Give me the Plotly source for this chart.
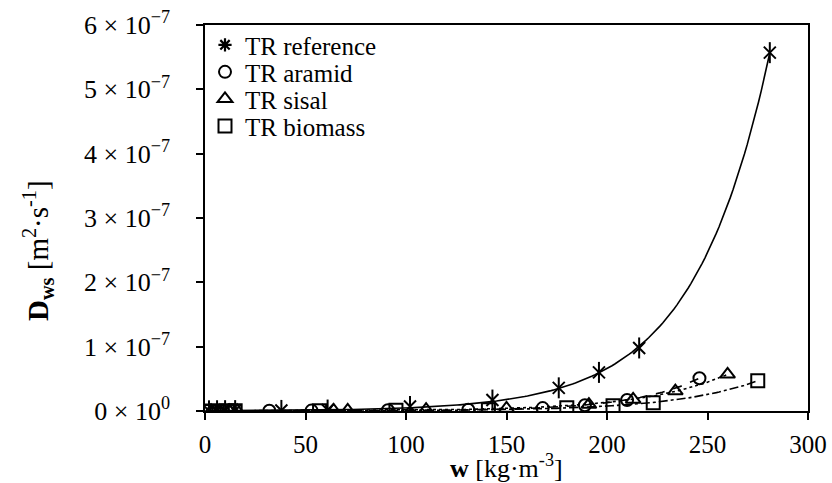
import numpy as np
import plotly.graph_objects as go

# Moisture content w [kg/m3] and moisture diffusivity D_ws [m2/s]
ref_w = [2, 6, 10, 15, 38, 61, 102, 143, 176, 196, 216, 281]
ref_d = [0.3e-9, 0.4e-9, 0.5e-9, 0.6e-9, 0.9e-9, 1.5e-9, 7e-9, 17e-9, 36e-9, 60e-9, 98e-9, 557e-9]

aramid_w = [1, 5, 9, 13, 32, 53, 91, 131, 168, 189, 210, 246]
aramid_d = [0.1e-9, 0.1e-9, 0.1e-9, 0.2e-9, 0.3e-9, 0.6e-9, 1.2e-9, 2e-9, 4.5e-9, 9e-9, 17e-9, 51e-9]

sisal_w = [3, 7, 12, 16, 64, 71, 110, 150, 191, 213, 234, 260]
sisal_d = [0.1e-9, 0.2e-9, 0.2e-9, 0.3e-9, 0.8e-9, 1e-9, 2e-9, 4e-9, 10e-9, 18e-9, 31e-9, 57e-9]

biomass_w = [2, 6, 11, 15, 57, 95, 141, 180, 203, 223, 275]
biomass_d = [0.1e-9, 0.1e-9, 0.2e-9, 0.2e-9, 0.5e-9, 1e-9, 2e-9, 5e-9, 8e-9, 13e-9, 47e-9]

y_tickvals = [0, 1e-7, 2e-7, 3e-7, 4e-7, 5e-7, 6e-7]
y_ticktext = ["0 × 10<sup>0</sup>", "1 × 10<sup>−7</sup>", "2 × 10<sup>−7</sup>",
              "3 × 10<sup>−7</sup>", "4 × 10<sup>−7</sup>", "5 × 10<sup>−7</sup>",
              "6 × 10<sup>−7</sup>"]
x_tickvals = [0, 50, 100, 150, 200, 250, 300]

FONT = "Liberation Serif"
BLACK = "black"


def exp_trend(w, d, n=200):
    """Exponential trend D = a*exp(b*w), log-linear fit weighted by D."""
    w = np.asarray(w, float)
    d = np.asarray(d, float)
    b, ln_a = np.polyfit(w, np.log(d), 1, w=d)
    xs = np.linspace(w.min(), w.max(), n)
    return xs, np.exp(ln_a) * np.exp(b * xs)


fig = go.Figure()

series = [
    ("TR reference", ref_w, ref_d, "solid"),
    ("TR aramid", aramid_w, aramid_d, "dash"),
    ("TR sisal", sisal_w, sisal_d, "dot"),
    ("TR biomass", biomass_w, biomass_d, "dashdot"),
]

# trend lines
for name, w, d, dash in series:
    xs, ys = exp_trend(w, d)
    fig.add_trace(go.Scatter(x=xs, y=ys, mode="lines", showlegend=False,
                             hoverinfo="skip",
                             line=dict(color=BLACK, width=1.6, dash=dash)))

mk_line = dict(color=BLACK, width=2)

# reference markers: six-armed star built from an X and a vertical bar
fig.add_trace(go.Scatter(x=ref_w, y=ref_d, mode="markers", showlegend=False,
                         marker=dict(symbol="line-ns-open", size=15, color=BLACK,
                                     line=mk_line)))
fig.add_trace(go.Scatter(x=ref_w, y=ref_d, mode="markers", showlegend=False,
                         marker=dict(symbol="x-thin-open", size=12, color=BLACK,
                                     line=mk_line)))
# legend entry for the reference series
fig.add_trace(go.Scatter(x=[None], y=[None], mode="markers", name="TR reference",
                         legend="legend",
                         marker=dict(symbol="asterisk-open", size=11, color=BLACK,
                                     line=dict(color=BLACK, width=2.2))))

fig.add_trace(go.Scatter(x=aramid_w, y=aramid_d, mode="markers", name="TR aramid",
                         legend="legend2",
                         marker=dict(symbol="circle-open", size=12, color=BLACK,
                                     line=mk_line)))
fig.add_trace(go.Scatter(x=sisal_w, y=sisal_d, mode="markers", name="TR sisal",
                         legend="legend3",
                         marker=dict(symbol="triangle-up-open", size=13, color=BLACK,
                                     line=mk_line)))
fig.add_trace(go.Scatter(x=biomass_w, y=biomass_d, mode="markers", name="TR biomass",
                         legend="legend4",
                         marker=dict(symbol="square-open", size=13, color=BLACK,
                                     line=mk_line)))

axis_common = dict(showgrid=False, zeroline=False, showline=True, linecolor=BLACK,
                   linewidth=1.5, mirror=True, ticks="outside", ticklen=7,
                   tickwidth=1.5, tickcolor=BLACK, automargin=False,
                   ticklabeloverflow="allow")

fig.update_xaxes(range=[0, 300], tickvals=x_tickvals, ticklabelstandoff=3,
                 tickfont=dict(family=FONT, size=25, color=BLACK),
                 **axis_common)
fig.update_yaxes(range=[0, 6e-7], tickvals=y_tickvals, ticktext=y_ticktext,
                 ticklabelstandoff=21,
                 tickfont=dict(family=FONT, size=26, color=BLACK),
                 **axis_common)

# axis titles as annotations
fig.add_annotation(text="<b>w</b> [kg·m<sup>-3</sup>]",
                   xref="paper", yref="paper", x=0.5, y=-0.143,
                   xanchor="center", yanchor="middle",
                   showarrow=False, font=dict(family=FONT, size=26, color=BLACK))
fig.add_annotation(text="<b>D<sub>ws</sub></b> [m<sup>2</sup>·s<sup>-1</sup>]",
                   xref="paper", yref="paper", x=-0.277, y=0.417,
                   xanchor="center", yanchor="middle", textangle=-90,
                   showarrow=False, font=dict(family=FONT, size=29, color=BLACK))

legend_font = dict(family=FONT, size=25, color=BLACK)


def legend_box(y):
    return dict(x=0.0, y=y, xanchor="left", yanchor="middle",
                bgcolor="rgba(0,0,0,0)", itemwidth=30,
                font=legend_font)


fig.update_layout(
    width=832, height=483,
    margin=dict(l=205, r=24, t=25, b=72),
    paper_bgcolor="white", plot_bgcolor="white",
    font=dict(family=FONT, size=24, color=BLACK),
    legend=legend_box(0.948),
    legend2=legend_box(0.878),
    legend3=legend_box(0.808),
    legend4=legend_box(0.738),
)

fig.write_html("out.html")
